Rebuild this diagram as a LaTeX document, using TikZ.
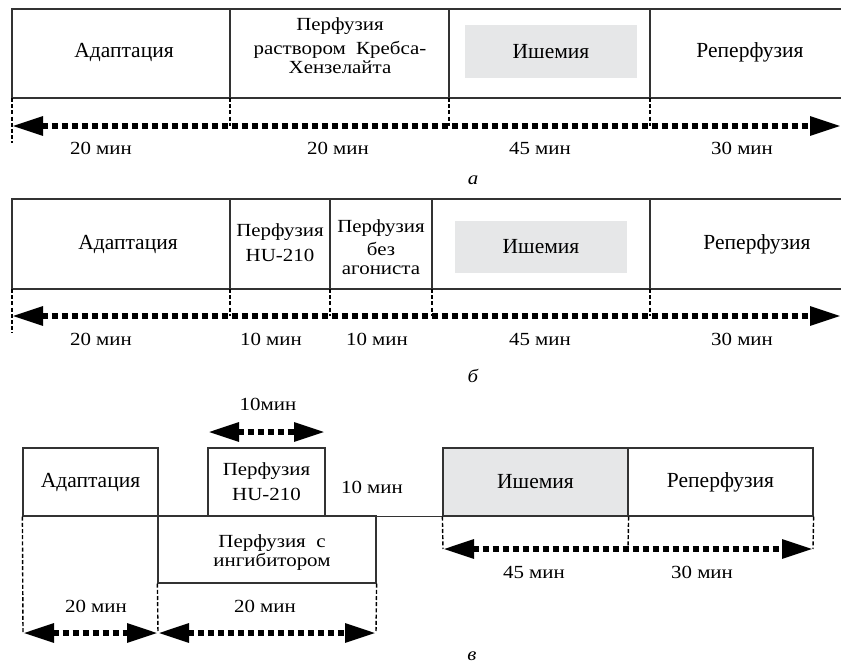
\documentclass[tikz,border=0pt]{standalone}
\usepackage{fontspec}
\setmainfont{Liberation Serif}
\newfontfamily\widefont[FakeStretch=1.13]{Liberation Serif}
\usetikzlibrary{arrows.meta}
\definecolor{ishgrey}{HTML}{E6E7E8}

\begin{document}
\begin{tikzpicture}[x=1pt,y=-1pt,
  frame/.style={draw=black!80,line width=1.2pt},
  big/.style={font=\fontsize{21.5}{24}\selectfont,inner sep=0pt},
  txt/.style={font=\widefont\fontsize{18.5}{19}\selectfont,align=center,inner sep=0pt},
  subcap/.style={font=\widefont\fontsize{18.5}{19}\selectfont\itshape,inner sep=0pt,anchor=base},
  guide/.style={line width=1.4pt,dash pattern=on 4pt off 2.2pt},
  durline/.style={line width=5.8pt,dash pattern=on 6pt off 4pt,
    arrows={Triangle[length=31pt,width=18pt]-Triangle[length=31pt,width=18pt]}}]
\useasboundingbox (0,0) rectangle (841,666);
% a
\draw[frame] (841,9) -- (12,9) -- (12,98) -- (841,98);
\draw[frame] (230,9) -- (230,98) (449,9) -- (449,98) (650,9) -- (650,98);
\node[big,anchor=base] (adA) at (124,58) {Адаптация};
\node[txt,anchor=base] (kgA) at (340,74) {Перфузия\\[5pt]раствором~~Кребса-\\Хензелайта};
\node[big,fill=ishgrey,minimum width=172pt,minimum height=53pt] (ishA) at (551,51.5) {Ишемия};
\node[big,anchor=base] (repA) at (750,58) {Реперфузия};
\coordinate (a0) at (12,126);
\coordinate (a1) at (841,126);
\draw[guide] (12,98) -- (12,143);
\foreach \x in {230,449,650}
  \draw[guide] (\x,98) -- (\x,126);
\draw[durline] (a0) -- (a1);
\foreach \x/\t [count=\i] in {101/20,338/20,540/45,742/30}
  \node[txt,anchor=base] (ta\i) at (\x,155) {\t~мин};
\node[subcap] (capA) at (473,185) {а};
% b
\draw[frame] (841,199) -- (12,199) -- (12,289) -- (841,289);
\draw[frame] (230,199) -- (230,289) (330,199) -- (330,289)
  (432,199) -- (432,289) (650,199) -- (650,289);
\node[big,anchor=base] (adB) at (128,249) {Адаптация};
\node[txt,anchor=base] (huB) at (280,261) {Перфузия\\[6pt]HU-210};
\node[txt,anchor=base] (bzB) at (381,274) {Перфузия\\[4pt]без\\агониста};
\node[big,fill=ishgrey,minimum width=172pt,minimum height=52pt] (ishB) at (541,247) {Ишемия};
\node[big,anchor=base] (repB) at (757,249) {Реперфузия};
\coordinate (b0) at (12,316);
\coordinate (b1) at (841,316);
\draw[guide] (12,289) -- (12,333);
\foreach \x in {230,330,432,650}
  \draw[guide] (\x,289) -- (\x,316);
\draw[durline] (b0) -- (b1);
\foreach \x/\t [count=\i] in {101/20,271/10,377/10,540/45,742/30}
  \node[txt,anchor=base] (tb\i) at (\x,345) {\t~мин};
\node[subcap] (capB) at (473,382) {б};
% v
\node[frame,big,minimum width=135pt,minimum height=68pt] (adV) at (90.5,482) {Адаптация};
\node[frame,txt,minimum width=117pt,minimum height=68pt] (huV) at (266.5,482) {Перфузия\\[6pt]HU-210};
\node[frame,minimum width=218pt,minimum height=67pt] (inV) at (267,549.5) {};
\node[txt,anchor=base] (inT) at (272,566) {Перфузия~~с\\ингибитором};
\node[frame,big,fill=ishgrey,minimum width=185pt,minimum height=68pt] (ishV) at (535.5,482) {Ишемия};
\node[frame,big,minimum width=185pt,minimum height=68pt] (repV) at (720.5,482) {Реперфузия};
\draw[frame] (adV.south west) -- (ishV.south west);
\node[txt,anchor=base] (thu) at (372,493) {10~мин};
% v arrows
\coordinate (h0) at (208,432);
\coordinate (h1) at (325,432);
\draw[durline] (h0) -- (h1);
\node[txt,anchor=base] (th) at (268,410) {10мин};
\coordinate (v0) at (23,633);
\coordinate (v1) at (158,633);
\coordinate (v2) at (376,633);
\draw[guide] (adV.south west) -- (v0);
\draw[guide] (inV.south west) -- (v1);
\draw[guide] (inV.south east) -- (v2);
\draw[durline] (v0) -- (v1);
\draw[durline] (v1) -- (v2);
\node[txt,anchor=base] (tv1) at (96,612) {20~мин};
\node[txt,anchor=base] (tv2) at (265,612) {20~мин};
\coordinate (w0) at (443,549);
\coordinate (w1) at (628,549);
\coordinate (w2) at (813,549);
\draw[guide] (ishV.south west) -- (w0);
\draw[guide] (ishV.south east) -- (w1);
\draw[guide] (repV.south east) -- (w2);
\draw[durline] (w0) -- (w2);
\node[txt,anchor=base] (tw1) at (534,578) {45~мин};
\node[txt,anchor=base] (tw2) at (702,578) {30~мин};
\node[subcap] (capV) at (472,660) {в};
\end{tikzpicture}
\end{document}
